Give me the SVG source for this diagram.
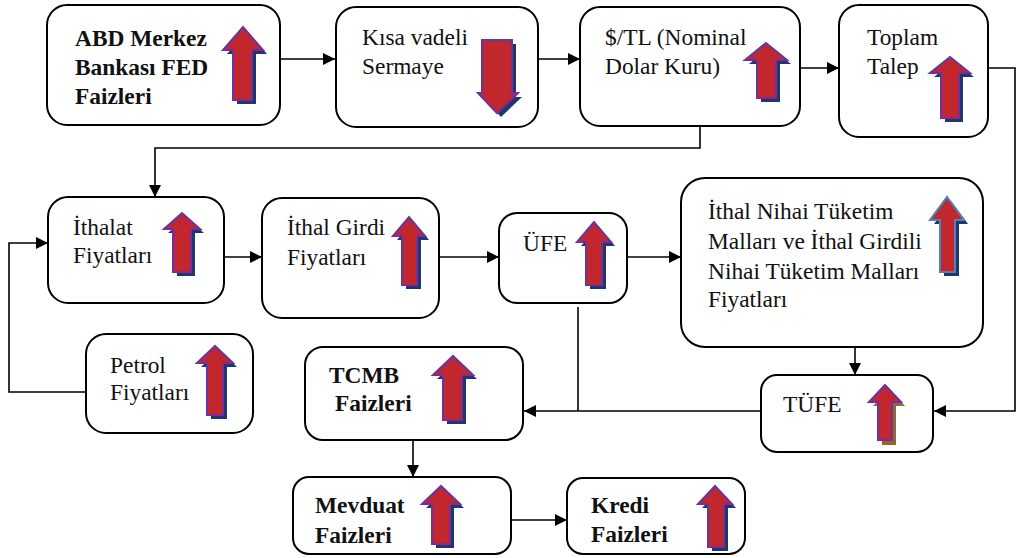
<svg xmlns="http://www.w3.org/2000/svg" width="1019" height="558" viewBox="0 0 1019 558">
<style>
.box{fill:#fff;stroke:#000;stroke-width:2}
.t{font-family:'Liberation Serif','DejaVu Serif',serif;font-size:23.4px;fill:#111}
.b{font-weight:bold}
.conn{fill:none;stroke:#000;stroke-width:1.6}
.ar{fill:#C1272D;stroke:#7030A0;stroke-width:2;stroke-linejoin:miter}
.arb{fill:#C1272D;stroke:#4F81BD;stroke-width:2}
.sh{fill:#1F3864}
.shb{fill:#8C6B2E}
</style>
<defs>
<marker id="m" viewBox="0 0 12 12" refX="12" refY="6" markerWidth="12" markerHeight="12" markerUnits="userSpaceOnUse" orient="auto">
<path d="M0,0 L12,6 L0,12 z" fill="#000"/>
</marker>
</defs>
<g id="connectors">
<path class="conn" d="M280,59 H335" marker-end="url(#m)"/>
<path class="conn" d="M538,59 H580" marker-end="url(#m)"/>
<path class="conn" d="M800,68 H839" marker-end="url(#m)"/>
<path class="conn" d="M700,126 V148 H155 V197" marker-end="url(#m)"/>
<path class="conn" d="M988,68 H1015 V411 H934" marker-end="url(#m)"/>
<path class="conn" d="M224,257 H262" marker-end="url(#m)"/>
<path class="conn" d="M439,257 H499" marker-end="url(#m)"/>
<path class="conn" d="M627,257 H681" marker-end="url(#m)"/>
<path class="conn" d="M86,392 H9 V243 H48" marker-end="url(#m)"/>
<path class="conn" d="M855,347 V375" marker-end="url(#m)"/>
<path class="conn" d="M761,411 H524" marker-end="url(#m)"/>
<path class="conn" d="M578,307 V411"/>
<path class="conn" d="M413,440 V477" marker-end="url(#m)"/>
<path class="conn" d="M511,520 H567" marker-end="url(#m)"/>
</g>
<g id="abd">
<rect class="box" x="47" y="5" width="233" height="120" rx="20"/>
<text class="t b" x="75" y="46">ABD Merkez</text>
<text class="t b" x="75" y="75">Bankası FED</text>
<text class="t b" x="75" y="104">Faizleri</text>
<polygon class="sh" points="237,104 237,54 227,54 247,31 267,54 256,54 256,104"/>
<polygon class="ar" points="233,100 233,50 223,50 243,27 263,50 252,50 252,100"/>
</g>
<g id="kisa">
<rect class="box" x="336" y="7" width="202" height="120" rx="20"/>
<text class="t" x="362" y="45">Kısa vadeli</text>
<text class="t" x="362" y="74">Sermaye</text>
<polygon class="sh" points="486,44 516,44 516,97 522,97 501,117 482,97 486,97"/>
<polygon class="ar" points="482,40 512,40 512,93 518,93 497,113 478,93 482,93"/>
</g>
<g id="dolar">
<rect class="box" x="580" y="7" width="220" height="119" rx="20"/>
<text class="t" x="605" y="45">$/TL (Nominal</text>
<text class="t" x="605" y="74">Dolar Kuru)</text>
<polygon class="sh" points="761,102 761,64 749,64 770,47 791,64 780,64 780,102"/>
<polygon class="ar" points="757,98 757,60 745,60 766,43 787,60 776,60 776,98"/>
</g>
<g id="toplam">
<rect class="box" x="839" y="5" width="149" height="132" rx="20"/>
<text class="t" x="867" y="45">Toplam</text>
<text class="t" x="867" y="74">Talep</text>
<polygon class="sh" points="945,122 945,77 934,77 954,61 974,77 963,77 963,122"/>
<polygon class="ar" points="941,118 941,73 930,73 950,57 970,73 959,73 959,118"/>
</g>
<g id="ithalat">
<rect class="box" x="48" y="197" width="176" height="106" rx="20"/>
<text class="t" x="73" y="235">İthalat</text>
<text class="t" x="73" y="263">Fiyatları</text>
<polygon class="sh" points="177,276 177,233 168,233 186,217 204,233 195,233 195,276"/>
<polygon class="ar" points="173,272 173,229 164,229 182,213 200,229 191,229 191,272"/>
</g>
<g id="ithalgirdi">
<rect class="box" x="262" y="198" width="177" height="120" rx="20"/>
<text class="t" x="287" y="235">İthal Girdi</text>
<text class="t" x="287" y="265">Fiyatları</text>
<polygon class="sh" points="406,289 406,240 397,240 413,221 429,240 421,240 421,289"/>
<polygon class="ar" points="402,285 402,236 393,236 409,217 425,236 417,236 417,285"/>
</g>
<g id="ufe">
<rect class="box" x="499" y="213" width="128" height="90" rx="18"/>
<text class="t" x="523" y="251">ÜFE</text>
<polygon class="sh" points="590,289 590,246 581,246 598,226 615,246 606,246 606,289"/>
<polygon class="ar" points="586,285 586,242 577,242 594,222 611,242 602,242 602,285"/>
</g>
<g id="ithalnihai">
<rect class="box" x="681" y="178" width="302" height="169" rx="24"/>
<text class="t" x="708" y="219">İthal Nihai Tüketim</text>
<text class="t" x="708" y="249">Malları ve İthal Girdili</text>
<text class="t" x="708" y="279">Nihai Tüketim Malları</text>
<text class="t" x="708" y="307">Fiyatları</text>
<polygon class="sh" points="944,276 944,224 934,224 951,201 968,224 959,224 959,276"/>
<polygon class="arb" points="940,272 940,220 930,220 947,197 964,220 955,220 955,272"/>
</g>
<g id="petrol">
<rect class="box" x="86" y="334" width="167" height="99" rx="20"/>
<text class="t" x="110" y="373">Petrol</text>
<text class="t" x="110" y="400">Fiyatları</text>
<polygon class="sh" points="211,419 211,367 201,367 219,350 237,367 227,367 227,419"/>
<polygon class="ar" points="207,415 207,363 197,363 215,346 233,363 223,363 223,415"/>
</g>
<g id="tcmb">
<rect class="box" x="305" y="347" width="218" height="93" rx="18"/>
<text class="t b" x="329" y="383">TCMB</text>
<text class="t b" x="335" y="411">Faizleri</text>
<polygon class="sh" points="447,424 447,379 437,379 457,360 477,379 466,379 466,424"/>
<polygon class="ar" points="443,420 443,375 433,375 453,356 473,375 462,375 462,420"/>
</g>
<g id="tufe">
<rect class="box" x="761" y="375" width="172" height="77" rx="16"/>
<text class="t" x="783" y="412">TÜFE</text>
<polygon class="shb" points="882,445 882,406 873,406 889,389 905,406 896,406 896,445"/>
<polygon class="ar" points="878,440 878,402 869,402 885,385 901,402 892,402 892,440"/>
</g>
<g id="mevduat">
<rect class="box" x="293" y="477" width="218" height="77" rx="16"/>
<text class="t b" x="315" y="513">Mevduat</text>
<text class="t b" x="315" y="543">Faizleri</text>
<polygon class="sh" points="436,548 436,508 426,508 445,490 464,508 454,508 454,548"/>
<polygon class="ar" points="432,544 432,504 422,504 441,486 460,504 450,504 450,544"/>
</g>
<g id="kredi">
<rect class="box" x="567" y="478" width="178" height="76" rx="16"/>
<text class="t b" x="591" y="513">Kredi</text>
<text class="t b" x="591" y="542">Faizleri</text>
<polygon class="sh" points="712,551 712,508 702,508 719,490 736,508 728,508 728,551"/>
<polygon class="ar" points="708,547 708,504 698,504 715,486 732,504 724,504 724,547"/>
</g>
</svg>
